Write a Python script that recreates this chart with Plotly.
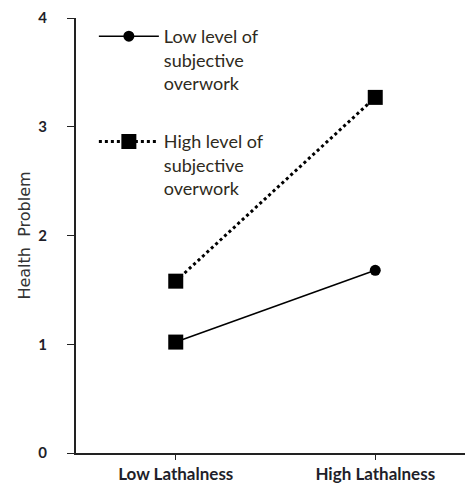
import plotly.graph_objects as go

categories = ["Low Lathalness", "High Lathalness"]
low_overwork = [1.02, 1.68]
high_overwork = [1.58, 3.27]
y_ticks = [0, 1, 2, 3, 4]
series_names = ["Low level of<br>subjective<br>overwork", "High level of<br>subjective<br>overwork"]

FONT = "Lato"
INK = "#1f1f2a"

fig = go.Figure()
fig.add_trace(go.Scatter(
    x=categories, y=low_overwork, name=series_names[0], mode="lines+markers",
    legendgroup="a",
    line=dict(color="black", width=1.5),
    marker=dict(symbol="circle", size=11, color="black", line=dict(width=0, color="black")),
))
# square marker drawn over the first point of the low series, as in the reference
fig.add_trace(go.Scatter(
    x=categories[:1], y=low_overwork[:1], mode="markers", showlegend=False,
    marker=dict(symbol="square", size=15, color="black", line=dict(width=0, color="black")),
))
fig.add_trace(go.Scatter(
    x=categories, y=high_overwork, name=series_names[1], mode="lines+markers",
    legendgroup="b",
    line=dict(color="black", width=3, dash="dot"),
    marker=dict(symbol="square", size=15, color="black", line=dict(width=0, color="black")),
))

fig.update_layout(
    width=465, height=482,
    margin=dict(l=68, r=0, t=7, b=37),
    plot_bgcolor="white", paper_bgcolor="white",
    font=dict(family=FONT, color=INK),
    legend=dict(x=0.045, y=1.0, xanchor="left", yanchor="top", valign="top",
                font=dict(size=18, color="#2e2a20", family=FONT), tracegroupgap=32,
                itemwidth=60, bgcolor="rgba(0,0,0,0)"),
    xaxis=dict(type="category", range=[-0.5, 1.49], showline=True, linecolor="#222",
               linewidth=2, ticks="outside", ticklen=5, tickcolor="#222",
               tickfont=dict(size=17, family=FONT, weight="bold", color=INK),
               showgrid=False, zeroline=False),
    yaxis=dict(range=[0, 4], tickvals=y_ticks, showline=True, linecolor="#222",
               linewidth=2, ticks="outside", ticklen=7, tickcolor="#222",
               ticklabelstandoff=17, ticklabeloverflow="allow",
               tickfont=dict(size=15, family=FONT, weight="bold", color=INK),
               title=dict(text="Health  Problem", font=dict(size=16, color="#333", family="DejaVu Sans"), standoff=4),
               showgrid=False, zeroline=False),
)

fig.write_html("out.html")
